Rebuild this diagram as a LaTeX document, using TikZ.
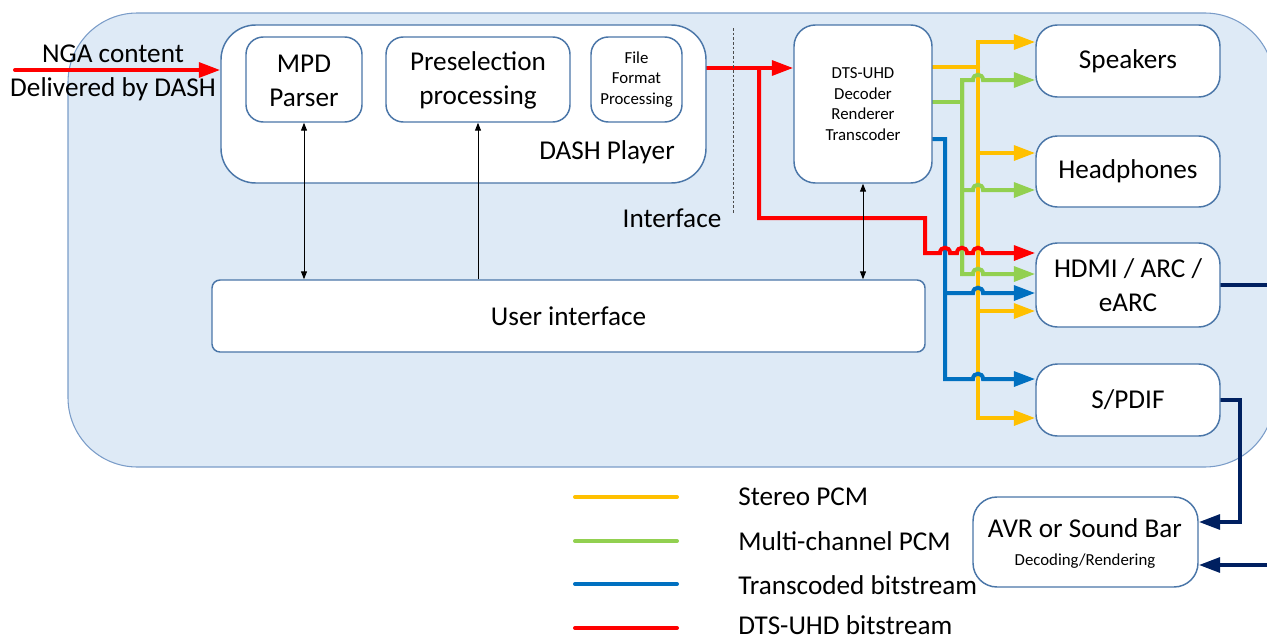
\documentclass[tikz,border=0pt]{standalone}
\usepackage{fontspec}
\setmainfont{Carlito}
\usetikzlibrary{arrows.meta,fit}
\pgfdeclarelayer{bg}
\pgfdeclarelayer{wires}
\pgfsetlayers{bg,wires,main}
\definecolor{bgfill}{HTML}{DEEAF6}
\definecolor{bgline}{HTML}{7A9CC8}
\definecolor{boxline}{HTML}{4A76A8}
\definecolor{cY}{HTML}{FFC000}
\definecolor{cG}{HTML}{92D050}
\definecolor{cB}{HTML}{0070C0}
\definecolor{cR}{HTML}{FF0000}
\definecolor{cN}{HTML}{002060}
\tikzset{
  big/.style={font=\fontsize{20.4}{25.5}\selectfont, align=center},
  small/.style={font=\fontsize{12.6}{15.4}\selectfont, align=center},
  box/.style={draw=boxline, line width=1.1pt, fill=white, inner sep=0pt, rounded corners=#1},
  box/.default=12pt,
  wire/.style={line width=3pt, line cap=round},
  tipA/.style={-{Triangle[length=16pt,width=11pt]}},
  thinarrow/.style={line width=0.75pt, black},
  stip/.tip={Triangle[length=6pt,width=4.5pt]},
  legendtext/.style={big, anchor=west, inner sep=0pt}
}
\begin{document}
\begin{tikzpicture}[x=0.75pt,y=-0.75pt]
\useasboundingbox (0,0) rectangle (1267,639);

\begin{pgfonlayer}{bg}
  \clip (0,0) rectangle (1267,639);
  \draw[bgline, line width=0.8pt, fill=bgfill, rounded corners=52pt] (68,13) rectangle (1274,467);
\end{pgfonlayer}

% ---------- boxes ----------
\node[box=26pt, fit={(221,25) (706,183)}] (dash) {};
\node[box=13pt, fit={(246,37) (362,122)}] (mpd) {};
\node[box=13pt, fit={(386,37) (570,122)}] (pre) {};
\node[box=13pt, fit={(591,37) (682,122)}] (ffp) {};
\node[box=16pt, fit={(794,25) (932,183)}] (dts) {};
\node[box=6pt, fit={(212,280) (925,352)}] (ui) {};
\node[box=16pt, fit={(1036,25) (1220,97)}] (spk) {};
\node[box=16pt, fit={(1036,136) (1220,207)}] (hp) {};
\node[box=16pt, fit={(1036,243) (1220,327)}] (hdmi) {};
\node[box=16pt, fit={(1036,364) (1220,436)}] (spdif) {};
\node[box=18pt, fit={(973,497) (1198,587)}] (avr) {};

% ---------- texts ----------
\node[big] (dashlbl) at (607,152) {DASH Player};
\node[big] (mpdt) at ([yshift=-1pt]mpd.center) {MPD\\Parser};
\node[big] (pret) at ([yshift=-1pt]pre.center) {Preselection\\processing};
\node[small] (ffpt) at (ffp.center) {File\\Format\\Processing};
\node[small] (dtst) at (dts.center) {DTS-UHD\\Decoder\\Renderer\\Transcoder};
\node[big] (uit) at (ui.center) {User interface};
\node[big] (spkt) at (spk.center) {Speakers};
\node[big] (hpt) at (hp.center) {Headphones};
\node[big] (hdmit) at (hdmi.center) {HDMI / ARC /\\eARC};
\node[big] (spdift) at (spdif.center) {S/PDIF};
\node[big] (avr1) at (1085,528) {AVR or Sound Bar};
\node[small] (avr2) at (1085,561) {Decoding/Rendering};
\node[big] (nga) at (113,73) {NGA content\\Delivered by DASH};
\node[big] (ifc) at (672,218) {Interface};

% interface divider
\coordinate (ifa) at (733,28);
\coordinate (ifb) at (733,213);
\draw[gray!60!black, line width=0.5pt, dash pattern=on 2pt off 1.5pt] (ifa) -- (ifb);

% thin control arrows
\draw[thinarrow, stip-stip] (mpd.south) -- (mpd.south |- ui.north);
\draw[thinarrow, -stip] (pre.south |- ui.north) -- (pre.south);
\draw[thinarrow, stip-stip] (dts.south) -- (dts.south |- ui.north);

% legend
\draw[wire, cY] (575,497) -- (677,497);
\node[legendtext] (lg1) at (738,497) {Stereo PCM};
\draw[wire, cG] (575,541) -- (677,541);
\node[legendtext] (lg2) at (738,541) {Multi-channel PCM};
\draw[wire, cB] (575,584) -- (677,584);
\node[legendtext] (lg3) at (738,585) {Transcoded bitstream};
\draw[wire, cR] (575,628) -- (677,628);
\node[legendtext] (lg4) at (738,625) {DTS-UHD bitstream};

% ---------- wires ----------
\begin{pgfonlayer}{wires}
  \clip (0,0) rectangle (1267,639);
  % NGA input
  \coordinate (ngastart) at (15,70);
  \draw[wire, cR, tipA] (ngastart) -- (ngastart -| dash.west);

  % yellow (stereo PCM)
  \coordinate (yj) at (978,67);
  \coordinate (y1) at (978,42);
  \coordinate (y2) at (978,153);
  \coordinate (y3) at (978,311);
  \coordinate (y4) at (978,418);
  \draw[wire, cY] (yj -| dts.east) -- (yj);
  \draw[wire, cY, tipA] (y4) -- (y1) -- (y1 -| spk.west);
  \draw[wire, cY, tipA] (y2) -- (y2 -| hp.west);
  \draw[wire, cY, tipA] (y3) -- (y3 -| hdmi.west);
  \draw[wire, cY, tipA] (y1) -- (y4) -- (y4 -| spdif.west);

  % green (multi-channel PCM)
  \coordinate (gj) at (962,102);
  \coordinate (g1) at (962,80);
  \coordinate (g2) at (962,190);
  \coordinate (g3) at (962,274);
  \draw[wire, cG] (gj -| dts.east) -- (gj);
  \draw[wire, cG, tipA] (g3) -- (g1) -- (973,80) .. controls (973,73) and (983,73) .. (983,80) -- (g1 -| spk.west);
  \draw[wire, cG, tipA] (g2) -- (973,190) .. controls (973,183) and (983,183) .. (983,190) -- (g2 -| hp.west);
  \draw[wire, cG, tipA] (g1) -- (g3) -- (973,274) .. controls (973,267) and (983,267) .. (983,274) -- (g3 -| hdmi.west);

  % blue (transcoded)
  \coordinate (bj) at (945,139);
  \coordinate (b1) at (945,293);
  \coordinate (b2) at (945,379);
  \draw[wire, cB, tipA] (bj -| dts.east) -- (bj) -- (b2) -- (973,379) .. controls (973,372) and (983,372) .. (983,379) -- (b2 -| spdif.west);
  \draw[wire, cB, tipA] (b1) -- (973,293) .. controls (973,286) and (983,286) .. (983,293) -- (b1 -| hdmi.west);

  % red (DTS-UHD bitstream)
  \coordinate (rj) at (759,68);
  \coordinate (r1) at (759,218);
  \coordinate (r2) at (925,218);
  \coordinate (r3) at (925,253);
  \draw[wire, cR, tipA] (rj -| dash.east) -- (rj -| dts.west);
  \draw[wire, cR, tipA] (rj) -- (r1) -- (r2) -- (r3) -- (940,253) .. controls (940,246) and (950,246) .. (950,253) -- (957,253) .. controls (957,246) and (967,246) .. (967,253) -- (973,253) .. controls (973,246) and (983,246) .. (983,253) -- (r3 -| hdmi.west);

  % navy (outputs to AVR)
  \coordinate (nx) at (1290,0);
  \coordinate (n1) at (1240,522);
  \coordinate (n2) at (1290,565);
  \draw[wire, cN] (hdmi.east) -- (hdmi.east -| nx);
  \draw[wire, cN, tipA] (spdif.east) -| (n1) -- (n1 -| avr.east);
  \draw[wire, cN, tipA] (n2) -- (n2 -| avr.east);
\end{pgfonlayer}
\end{tikzpicture}
\end{document}
